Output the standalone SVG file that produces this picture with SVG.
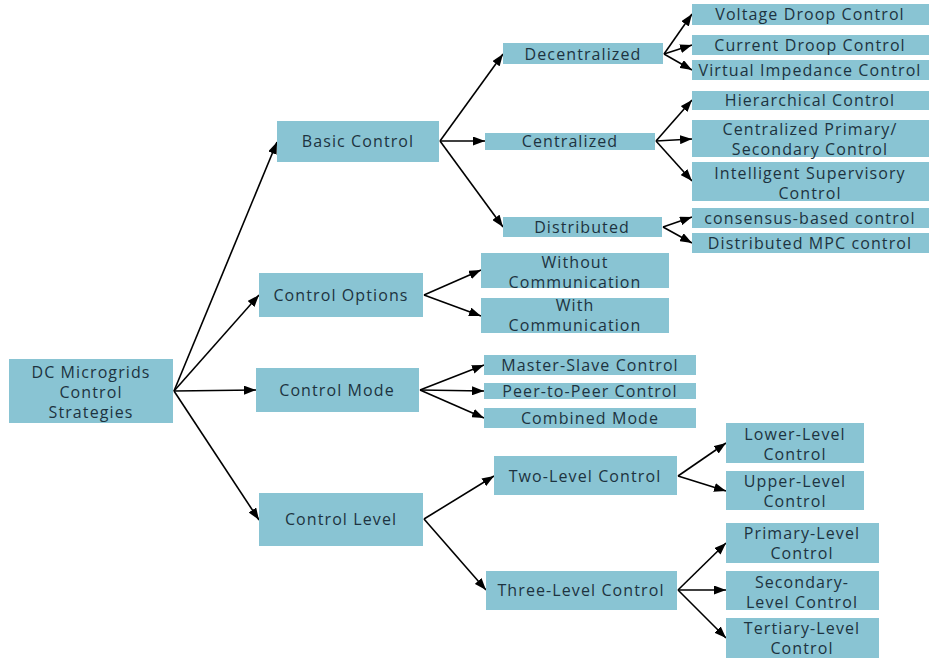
<svg xmlns="http://www.w3.org/2000/svg" width="931" height="658" viewBox="0 0 931 658">
<defs>
<marker id="arr" markerUnits="userSpaceOnUse" markerWidth="12" markerHeight="9" refX="12" refY="4.5" orient="auto">
<path d="M0,0 L12,4.5 L0,9 z" fill="#000"/>
</marker>
<style>
.n rect{fill:#89c4d3;}
.n text{font-family:"Open Sans","Noto Sans","DejaVu Sans",sans-serif;font-size:16px;letter-spacing:1.1px;fill:#1d3340;text-anchor:middle;}
.c line{stroke:#000;stroke-width:1.6;marker-end:url(#arr);}
</style>
</defs>
<rect width="931" height="658" fill="#fff"/>
<g class="c" id="connectors">
<line x1="174" y1="391" x2="277" y2="142"/>
<line x1="174" y1="391" x2="259" y2="295"/>
<line x1="174" y1="391" x2="256" y2="390"/>
<line x1="174" y1="391" x2="259" y2="520"/>
<line x1="440" y1="141" x2="503" y2="54"/>
<line x1="440" y1="141" x2="485" y2="141"/>
<line x1="440" y1="141" x2="503" y2="227"/>
<line x1="664" y1="54" x2="692" y2="14"/>
<line x1="664" y1="54" x2="692" y2="45"/>
<line x1="664" y1="54" x2="692" y2="70"/>
<line x1="656" y1="141" x2="692" y2="100"/>
<line x1="656" y1="141" x2="692" y2="139"/>
<line x1="656" y1="141" x2="692" y2="181"/>
<line x1="663" y1="227" x2="692" y2="217"/>
<line x1="663" y1="227" x2="692" y2="243"/>
<line x1="424" y1="295" x2="481" y2="270"/>
<line x1="424" y1="295" x2="481" y2="316"/>
<line x1="420" y1="390" x2="484" y2="365"/>
<line x1="420" y1="390" x2="484" y2="391"/>
<line x1="420" y1="390" x2="484" y2="418"/>
<line x1="424" y1="519" x2="494" y2="476"/>
<line x1="424" y1="519" x2="486" y2="590"/>
<line x1="678" y1="476" x2="726" y2="443"/>
<line x1="678" y1="476" x2="726" y2="491"/>
<line x1="678" y1="590" x2="726" y2="543"/>
<line x1="678" y1="590" x2="726" y2="590"/>
<line x1="678" y1="590" x2="726" y2="638"/>
</g>
<g class="n" id="root"><rect x="9" y="359" width="164" height="64"/><text x="91" y="378">DC Microgrids</text><text x="91" y="398">Control</text><text x="91" y="418">Strategies</text></g>
<g class="n" id="basic"><rect x="277" y="121" width="162" height="41"/><text x="358" y="147">Basic Control</text></g>
<g class="n" id="options"><rect x="259" y="273" width="164" height="44"/><text x="341" y="301">Control Options</text></g>
<g class="n" id="mode"><rect x="256" y="368" width="163" height="44"/><text x="337" y="396">Control Mode</text></g>
<g class="n" id="level"><rect x="259" y="493" width="164" height="53"/><text x="341" y="525">Control Level</text></g>
<g class="n" id="decentralized"><rect x="503" y="43" width="160" height="21"/><text x="583" y="60">Decentralized</text></g>
<g class="n" id="centralized"><rect x="485" y="133" width="170" height="17"/><text x="570" y="147">Centralized</text></g>
<g class="n" id="distributed"><rect x="503" y="217" width="159" height="20"/><text x="582" y="233">Distributed</text></g>
<g class="n" id="voltage"><rect x="692" y="4" width="237" height="21"/><text x="810" y="20">Voltage Droop Control</text></g>
<g class="n" id="current"><rect x="692" y="35" width="237" height="20"/><text x="810" y="51">Current Droop Control</text></g>
<g class="n" id="virtual"><rect x="692" y="60" width="237" height="20"/><text x="810" y="76">Virtual Impedance Control</text></g>
<g class="n" id="hierarchical"><rect x="692" y="91" width="237" height="19"/><text x="810" y="106">Hierarchical Control</text></g>
<g class="n" id="centralprimary"><rect x="692" y="120" width="237" height="37"/><text x="810" y="134.5">Centralized Primary/</text><text x="810" y="154.5">Secondary Control</text></g>
<g class="n" id="intelligent"><rect x="692" y="162" width="237" height="39"/><text x="810" y="179">Intelligent Supervisory</text><text x="810" y="199">Control</text></g>
<g class="n" id="consensus"><rect x="692" y="208" width="237" height="20"/><text x="810" y="224">consensus-based control</text></g>
<g class="n" id="mpc"><rect x="692" y="233" width="237" height="20"/><text x="810" y="249">Distributed MPC control</text></g>
<g class="n" id="without"><rect x="481" y="253" width="188" height="35"/><text x="575" y="268">Without</text><text x="575" y="288">Communication</text></g>
<g class="n" id="with"><rect x="481" y="298" width="188" height="35"/><text x="575" y="311">With</text><text x="575" y="331">Communication</text></g>
<g class="n" id="master"><rect x="484" y="355" width="212" height="20"/><text x="590" y="371">Master-Slave Control</text></g>
<g class="n" id="peer"><rect x="484" y="383" width="212" height="16"/><text x="590" y="397">Peer-to-Peer Control</text></g>
<g class="n" id="combined"><rect x="484" y="408" width="212" height="20"/><text x="590" y="424">Combined Mode</text></g>
<g class="n" id="twolevel"><rect x="494" y="456" width="183" height="39"/><text x="585" y="482">Two-Level Control</text></g>
<g class="n" id="threelevel"><rect x="486" y="571" width="191" height="39"/><text x="581" y="596">Three-Level Control</text></g>
<g class="n" id="lower"><rect x="726" y="423" width="138" height="40"/><text x="795" y="440">Lower-Level</text><text x="795" y="460">Control</text></g>
<g class="n" id="upper"><rect x="726" y="471" width="138" height="39"/><text x="795" y="487">Upper-Level</text><text x="795" y="507">Control</text></g>
<g class="n" id="primary"><rect x="726" y="523" width="153" height="40"/><text x="802" y="539">Primary-Level</text><text x="802" y="559">Control</text></g>
<g class="n" id="secondary"><rect x="726" y="571" width="153" height="39"/><text x="802" y="588">Secondary-</text><text x="802" y="608">Level Control</text></g>
<g class="n" id="tertiary"><rect x="726" y="618" width="153" height="40"/><text x="802" y="634">Tertiary-Level</text><text x="802" y="654">Control</text></g>
</svg>
